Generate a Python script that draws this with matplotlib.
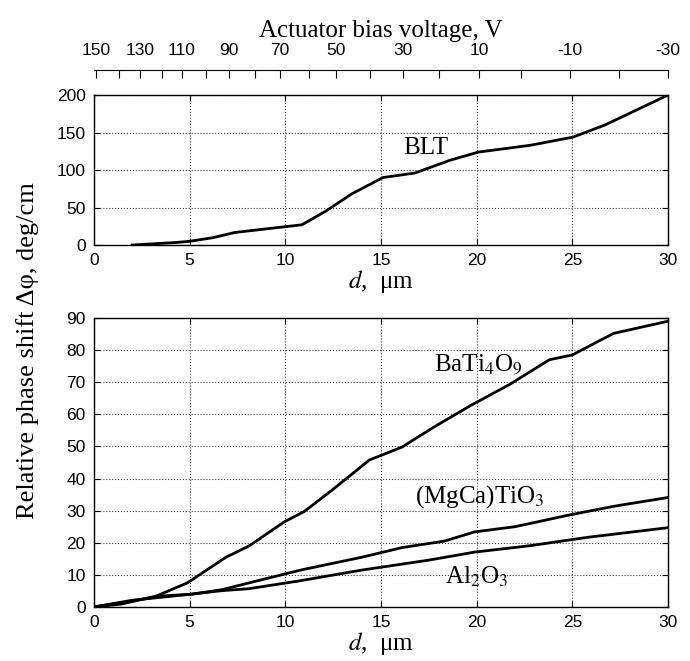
import numpy as np
import matplotlib
matplotlib.use('Agg')
from matplotlib import pyplot as plt

plt.rcParams['font.family'] = 'Liberation Sans'
plt.rcParams['mathtext.fontset'] = 'stix'

# BLT (upper panel)
blt_d = [2.0, 4.35, 5.0, 6.2, 7.35, 10.87, 12.1, 13.46, 15.1, 16.77, 18.6, 20.1, 22.8, 25.05, 26.7, 30.0]
blt_phi = [0, 3.5, 5, 9.7, 16.7, 27, 45, 68, 90, 96, 113, 124, 133, 144, 160, 200]

# lower panel
bati_d = [0, 1.42, 3.25, 4.88, 6.9, 8.1, 9.97, 10.98, 12.4, 14.4, 16.1, 17.7, 19.7, 21.75, 23.8, 25.0, 27.15, 30.0]
bati_phi = [0, 0.9, 3.4, 7.5, 15.5, 19, 26.6, 29.7, 36.2, 45.8, 49.8, 55.8, 62.8, 69.4, 77, 78.5, 85.2, 89]

mgca_d = [0, 2.0, 3.5, 5.1, 6.7, 8.1, 10.8, 14.0, 16.1, 18.3, 19.9, 22.0, 24.8, 27.2, 30.0]
mgca_phi = [0, 1.9, 3.4, 4.0, 5.4, 7.5, 11.5, 15.5, 18.5, 20.5, 23.4, 25, 28.6, 31.4, 34.1]

al_d = [0, 2.0, 5.1, 6.7, 8.1, 10.6, 14.0, 17.5, 19.9, 22.8, 25.8, 30.0]
al_phi = [0, 2.1, 4.0, 5.1, 5.7, 8.0, 11.5, 14.6, 17.1, 19.1, 21.7, 24.7]

# top axis: bias voltage and matching d position
volt = [150, 140, 130, 120, 110, 100, 90, 80, 70, 60, 50, 40, 30, 20, 10, 0, -10, -20, -30]
volt_d = [0.09, 1.31, 2.41, 3.55, 4.6, 5.85, 7.05, 8.41, 9.72, 11.24, 12.65, 14.43,
          16.16, 18.03, 20.12, 22.31, 24.87, 27.43, 30.0]

serif = {'family': 'Liberation Serif', 'size': 18}
xlab = r'$d$,  μm'


def style(ax):
    ax.set_xlim(0, 30)
    ax.set_xticks(range(0, 31, 5))
    ax.tick_params(direction='in', top=True, right=True, labelsize=12.5, length=4, pad=6)
    ax.grid(True, linestyle=':', color='#444444', linewidth=0.8)
    for s in ax.spines.values():
        s.set_linewidth(1.0)


fig = plt.figure(figsize=(6.9, 6.61), dpi=100)

ax1 = fig.add_axes([0.1362, 0.6293, 0.8319, 0.2269])
ax1.plot(blt_d, blt_phi, color='black', linewidth=2.0)
ax1.set_ylim(0, 200)
ax1.set_yticks(range(0, 201, 50))
style(ax1)
ax1.set_xlabel(xlab, fontdict=serif, labelpad=0)
ax1.text(17.35, 130, 'BLT', fontdict=serif, ha='center', va='center')

ax2 = fig.add_axes([0.1362, 0.0817, 0.8319, 0.4372])
ax2.plot(bati_d, bati_phi, color='black', linewidth=2.0)
ax2.plot(mgca_d, mgca_phi, color='black', linewidth=2.0)
ax2.plot(al_d, al_phi, color='black', linewidth=2.0)
ax2.set_ylim(0, 90)
ax2.set_yticks(range(0, 91, 10))
style(ax2)
ax2.set_xlabel(xlab, fontdict=serif, labelpad=0)
ax2.text(20.1, 75.6, r'BaTi$_4$O$_9$', fontdict=serif, ha='center', va='center')
ax2.text(20.15, 34.3, r'(MgCa)TiO$_3$', fontdict=serif, ha='center', va='center')
ax2.text(20.0, 9.5, r'Al$_2$O$_3$', fontdict=serif, ha='center', va='center')

# separate top axis for the actuator voltage
ax3 = fig.add_axes([0.1362, 0.8926, 0.8319, 0.001])
ax3.set_xlim(0, 30)
ax3.set_yticks([])
for side in ['left', 'right', 'bottom']:
    ax3.spines[side].set_visible(False)
ax3.xaxis.set_ticks_position('top')
ax3.xaxis.set_label_position('top')
ax3.set_xticks(volt_d)
ax3.set_xticklabels([str(v) if i % 2 == 0 else '' for i, v in enumerate(volt)])
ax3.tick_params(direction='in', length=6, labelsize=12.5, pad=9)
ax3.set_xlabel('Actuator bias voltage, V', fontdict=serif, labelpad=4)

fig.text(0.04, 0.47, 'Relative phase shift Δφ, deg/cm', rotation=90,
         ha='center', va='center', fontdict={'family': 'Liberation Serif', 'size': 19})

fig.savefig('out.png', dpi=100)
